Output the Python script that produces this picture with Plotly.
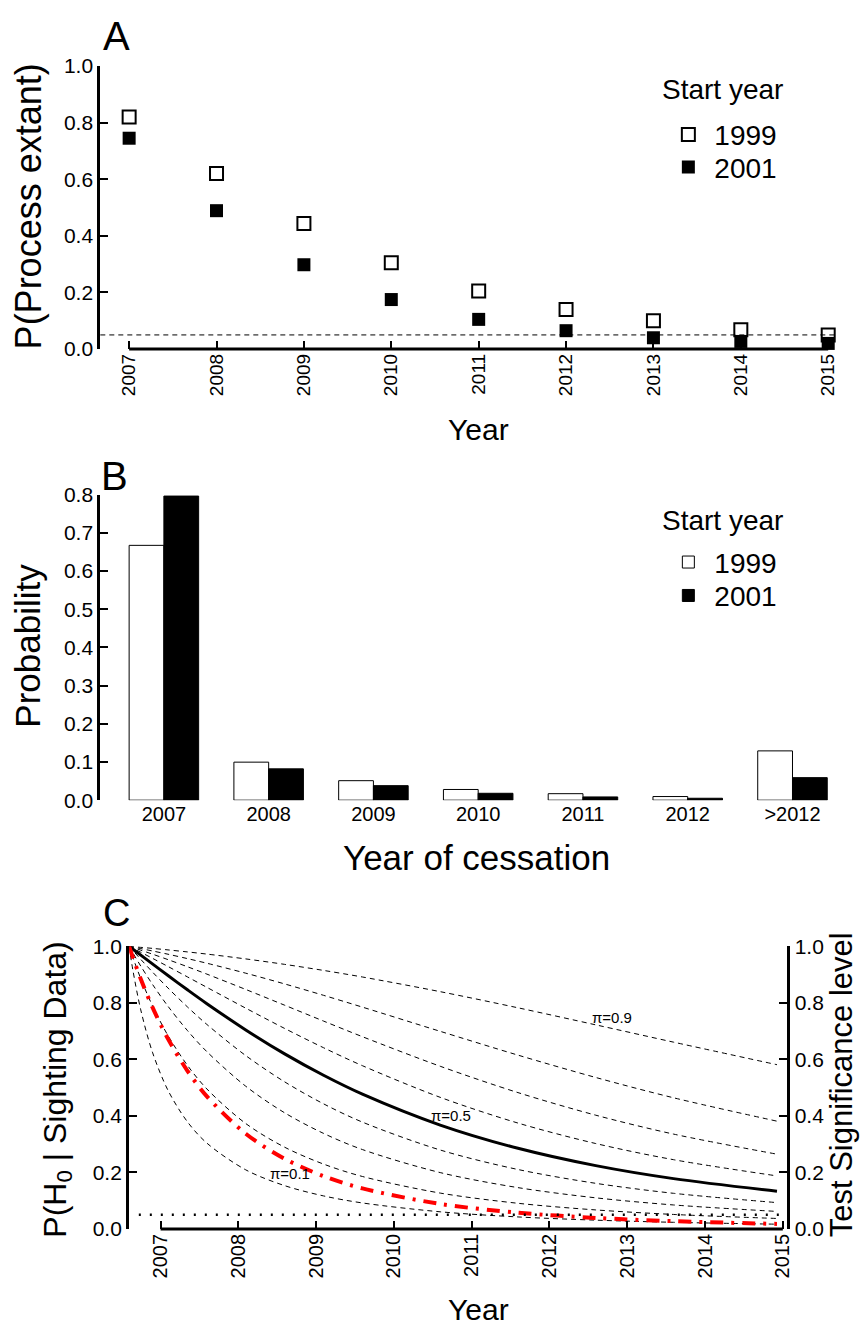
import plotly.graph_objects as go

# ---------------- Panel A data ----------------
years_a = [2007, 2008, 2009, 2010, 2011, 2012, 2013, 2014, 2015]
extant_1999 = [0.82, 0.62, 0.444, 0.305, 0.205, 0.14, 0.10, 0.068, 0.05]
extant_2001 = [0.745, 0.489, 0.298, 0.175, 0.105, 0.065, 0.04, 0.027, 0.02]
threshold = 0.05

# ---------------- Panel B data ----------------
cess_cats = ["2007", "2008", "2009", "2010", "2011", "2012", ">2012"]
cess_1999 = [0.667, 0.0995, 0.051, 0.028, 0.017, 0.0095, 0.129]
cess_2001 = [0.796, 0.082, 0.038, 0.018, 0.0085, 0.005, 0.059]

# ---------------- Panel C data ----------------
years_c = [2006.595, 2006.645, 2006.745, 2006.895, 2007.095, 2007.345, 2007.595,
           2008.095, 2008.595, 2009.095, 2009.595, 2010.595, 2011.595, 2012.595,
           2013.595, 2014.925]
post_p01 = [1.0, 0.9135, 0.7751, 0.6256, 0.4905, 0.3791, 0.3037, 0.2091, 0.1532, 0.1169, 0.0920, 0.0607, 0.0425, 0.0311, 0.0235, 0.0168]
post_p02 = [1.0, 0.9596, 0.8858, 0.7899, 0.6842, 0.5788, 0.4953, 0.3729, 0.2892, 0.2295, 0.1856, 0.1269, 0.0908, 0.0673, 0.0513, 0.0371]
post_p03 = [1.0, 0.9760, 0.9300, 0.8657, 0.7879, 0.7020, 0.6272, 0.5049, 0.4109, 0.3381, 0.2809, 0.1994, 0.1462, 0.1101, 0.0849, 0.0620]
post_p04 = [1.0, 0.9845, 0.9539, 0.9093, 0.8524, 0.7856, 0.7235, 0.6133, 0.5204, 0.4427, 0.3780, 0.2793, 0.2103, 0.1614, 0.1261, 0.0932]
post_p05 = [1.0, 0.9896, 0.9688, 0.9377, 0.8965, 0.8461, 0.7970, 0.7041, 0.6194, 0.5437, 0.4769, 0.3676, 0.2854, 0.2240, 0.1780, 0.1335]
post_p06 = [1.0, 0.9930, 0.9790, 0.9576, 0.9286, 0.8918, 0.8548, 0.7811, 0.7094, 0.6412, 0.5776, 0.4657, 0.3746, 0.3022, 0.2451, 0.1877]
post_p07 = [1.0, 0.9955, 0.9864, 0.9723, 0.9529, 0.9277, 0.9016, 0.8473, 0.7916, 0.7355, 0.6802, 0.5756, 0.4824, 0.4025, 0.3356, 0.2645]
post_p08 = [1.0, 0.9974, 0.9920, 0.9836, 0.9720, 0.9565, 0.9401, 0.9049, 0.8669, 0.8266, 0.7848, 0.6992, 0.6150, 0.5359, 0.4641, 0.3813]
post_p09 = [1.0, 0.9988, 0.9964, 0.9927, 0.9873, 0.9802, 0.9725, 0.9554, 0.9361, 0.9147, 0.8914, 0.8395, 0.7824, 0.7221, 0.6609, 0.5811]
signif = [1.0, 0.9594, 0.8842, 0.7847, 0.6728, 0.5595, 0.4691, 0.3370, 0.2483, 0.1869, 0.1434, 0.0885, 0.0576, 0.0390, 0.0274, 0.0179]
pi_labels = ["π=0.1", "π=0.5", "π=0.9"]

FONT = "Liberation Sans, Arial, sans-serif"
W, H = 862, 1334


def px(x):
    return x / W


def py(y):
    return 1 - y / H


fig = go.Figure()

# Panel A
fig.add_trace(go.Scatter(
    x=years_a, y=extant_1999, mode="markers", name="1999", legend="legend",
    marker=dict(symbol="square-open", size=13, color="black", line=dict(width=2)),
    xaxis="x", yaxis="y", cliponaxis=False))
fig.add_trace(go.Scatter(
    x=years_a, y=extant_2001, mode="markers", name="2001", legend="legend3",
    marker=dict(symbol="square", size=13, color="black"),
    xaxis="x", yaxis="y", cliponaxis=False))

# Panel B
fig.add_trace(go.Bar(
    x=cess_cats, y=cess_1999, name="1999", legend="legend2",
    marker=dict(color="white", line=dict(color="black", width=1)),
    xaxis="x2", yaxis="y2"))
fig.add_trace(go.Bar(
    x=cess_cats, y=cess_2001, name="2001", legend="legend4",
    marker=dict(color="black", line=dict(color="black", width=1)),
    xaxis="x2", yaxis="y2"))

# Panel C
curves = [post_p01, post_p02, post_p03, post_p04, post_p05,
          post_p06, post_p07, post_p08, post_p09]
for i, c in enumerate(curves):
    solid = (i == 4)
    fig.add_trace(go.Scatter(
        x=years_c, y=c, mode="lines", showlegend=False,
        line=dict(color="black", width=3 if solid else 1,
                  dash="solid" if solid else "5px,4px",
                  shape="spline", smoothing=0.9),
        xaxis="x3", yaxis="y3"))
fig.add_trace(go.Scatter(
    x=years_c, y=signif, mode="lines", showlegend=False,
    line=dict(color="red", width=4, dash="13px,8px,3px,8px",
              shape="spline", smoothing=0.9),
    xaxis="x3", yaxis="y3"))

A_top, A_bot = 55, 343
B_top, B_bot = 491, 802
C_top, C_bot = 950.7, 1238.3

axis_common = dict(showgrid=False, zeroline=False, color="black",
                   ticks="inside", tickcolor="black", tickwidth=2, ticklen=8)


def item_legend(x, yc):
    return dict(x=px(x), y=py(yc), xanchor="left", yanchor="middle",
                font=dict(size=28), bgcolor="rgba(0,0,0,0)", itemwidth=42,
                borderwidth=0)


fig.update_layout(
    width=W, height=H, autosize=False,
    margin=dict(l=0, r=0, t=0, b=0),
    paper_bgcolor="white", plot_bgcolor="white",
    font=dict(family=FONT, color="black"),
    bargap=0.3365, bargroupgap=0, barmode="group",
    xaxis=dict(domain=[px(101), px(840)], range=[2006.670, 2015.068], anchor="y",
               tickvals=years_a, tickangle=-90, showline=False,
               tickfont=dict(size=19), **axis_common),
    yaxis=dict(domain=[py(A_bot), py(A_top)], range=[0, 1], anchor="x",
               tickvals=[0, 0.2, 0.4, 0.6, 0.8, 1.0], tickformat=".1f",
               showline=True, linewidth=3, linecolor="black",
               tickfont=dict(size=21), **axis_common),
    xaxis2=dict(domain=[px(101), px(851)], range=[-0.607, 6.502], anchor="y2",
                type="category", showline=False, showgrid=False, zeroline=False,
                ticks="", tickfont=dict(size=20)),
    yaxis2=dict(domain=[py(B_bot), py(B_top)], range=[0, 0.8], anchor="x2",
                tickvals=[0, 0.1, 0.2, 0.3, 0.4, 0.5, 0.6, 0.7, 0.8], tickformat=".1f",
                showline=True, linewidth=3, linecolor="black",
                tickfont=dict(size=21), **axis_common),
    xaxis3=dict(domain=[px(130), px(793)], range=[2006.595, 2015.06], anchor="y3",
                tickvals=years_a, tickangle=-90, showline=False,
                tickfont=dict(size=20), **axis_common),
    yaxis3=dict(domain=[py(C_bot), py(C_top)], range=[0, 1], anchor="x3",
                tickvals=[0, 0.2, 0.4, 0.6, 0.8, 1.0], tickformat=".1f",
                showline=True, linewidth=3, linecolor="black",
                tickfont=dict(size=21), **axis_common),
    yaxis4=dict(overlaying="y3", side="right", range=[0, 1], anchor="x3",
                tickvals=[0, 0.2, 0.4, 0.6, 0.8, 1.0], tickformat=".1f",
                showline=True, linewidth=3, linecolor="black",
                tickfont=dict(size=21), **axis_common),
    legend=item_legend(667, 125),
    legend3=item_legend(667, 158),
    legend2=item_legend(667, 560),
    legend4=item_legend(667, 594),
)

# invisible trace so yaxis4 is rendered
fig.add_trace(go.Scatter(x=[2010], y=[0.5], xaxis="x3", yaxis="y4", mode="markers",
                         marker=dict(size=1, color="rgba(0,0,0,0)"),
                         showlegend=False, hoverinfo="skip"))

shapes = [
    dict(type="line", xref="x", yref="paper", x0=2007, x1=2015,
         y0=py(A_bot), y1=py(A_bot), line=dict(color="black", width=3)),
    dict(type="line", xref="x domain", yref="y", x0=0, x1=1,
         y0=threshold, y1=threshold, line=dict(color="black", width=1, dash="5px,4px")),
    dict(type="line", xref="x3", yref="paper", x0=2007, x1=2015,
         y0=py(C_bot), y1=py(C_bot), line=dict(color="black", width=3)),
    dict(type="line", xref="x3", yref="y3", x0=2006.72, x1=2015.05,
         y0=threshold, y1=threshold, line=dict(color="black", width=2.5, dash="2px,9px")),
]
fig.update_layout(shapes=shapes)

ann = []


def add_text(text, x, y, size, angle=0, xanchor="center"):
    ann.append(dict(text=text, x=px(x), y=py(y), xref="paper", yref="paper",
                    showarrow=False, textangle=angle, xanchor=xanchor, yanchor="middle",
                    font=dict(size=size, family=FONT, color="black")))


add_text("A", 117, 24, 40)
add_text("B", 115, 472, 40)
add_text("C", 117, 917, 38)
add_text("Start year", 665, 79, 28, xanchor="left")
add_text("Start year", 665, 517, 28, xanchor="left")
add_text("P(Process extant)", 29, 198, 36, -90)
add_text("Year", 482, 425, 30)
add_text("Probability", 28, 645, 35, -90)
add_text("Year of cessation", 480, 860, 35)
add_text("P(H<sub>0</sub> | Sighting Data)", 57, 1097, 32, -90)
add_text("Test Significance level", 847, 1092, 31, -90)
add_text("Year", 482, 1320, 30)

pi_pos = [(2008.66, 0.196), (2010.74, 0.401), (2012.81, 0.749)]
for lab, (lx, ly) in zip(pi_labels, pi_pos):
    ann.append(dict(text=lab, x=lx, y=ly, xref="x3", yref="y3", showarrow=False,
                    font=dict(size=15, family=FONT, color="black")))

fig.update_layout(annotations=ann)

fig.write_html("out.html")
